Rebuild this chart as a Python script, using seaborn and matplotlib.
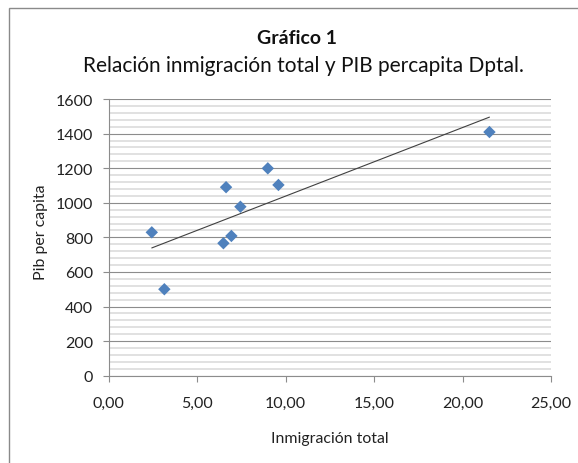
import numpy as np
import pandas as pd
import matplotlib
matplotlib.use("Agg")
import matplotlib.pyplot as plt
import seaborn as sns
from matplotlib.ticker import MultipleLocator, FuncFormatter
from matplotlib.patches import Rectangle

# datos
inmigracion = [2.43, 3.14, 6.63, 6.48, 6.93, 7.44, 8.99, 9.59, 21.52]
pib_percapita = [829, 500, 1090, 766, 808, 977, 1199, 1103, 1409]

df = pd.DataFrame({"inmigracion": inmigracion, "pib": pib_percapita})

sns.set_style("white")
plt.rcParams["font.family"] = ["Lato", "DejaVu Sans"]

fig = plt.figure(figsize=(5.78, 4.64), dpi=100)
ax = fig.add_axes([108.8 / 578, 1 - 376.7 / 464, 442.2 / 578, 276.7 / 464])

# marco del grafico (solo se ven borde izquierdo y superior)
fig.patches.append(Rectangle((9 / 578, -0.1), 1.2, 1 - 9 / 464 + 0.1,
                             transform=fig.transFigure, fill=False,
                             edgecolor="#8a8a8a", linewidth=1.0))

sns.regplot(data=df, x="inmigracion", y="pib", ax=ax, ci=None, truncate=True,
            scatter=False, line_kws={"color": "#404040", "linewidth": 0.8})
sns.scatterplot(data=df, x="inmigracion", y="pib", ax=ax, marker="D", s=40,
                color="#4F81BD", edgecolor="none", zorder=3)

ax.set_xlim(0, 25)
ax.set_ylim(0, 1600)
ax.xaxis.set_major_locator(MultipleLocator(5))
ax.yaxis.set_major_locator(MultipleLocator(200))
ax.yaxis.set_minor_locator(MultipleLocator(40))
ax.xaxis.set_major_formatter(FuncFormatter(lambda v, p: f"{v:.2f}".replace(".", ",")))

ax.grid(False)
ax.yaxis.grid(True, which="minor", color="#dedede", linewidth=1.3, zorder=0)
ax.yaxis.grid(True, which="major", color="#8c8c8c", linewidth=0.8, zorder=0)
ax.set_axisbelow(True)

for s in ["top", "right"]:
    ax.spines[s].set_visible(False)
for s in ["left", "bottom"]:
    ax.spines[s].set_color("#8c8c8c")
    ax.spines[s].set_linewidth(0.8)

ax.tick_params(axis="both", which="major", direction="out", length=4.3, width=0.8,
               color="#8c8c8c", labelsize=11.5, labelcolor="#222222",
               left=True, bottom=True)
ax.tick_params(axis="y", which="minor", length=0)
ax.tick_params(axis="y", pad=7)
ax.tick_params(axis="x", pad=10.5)

ax.set_xlabel("Inmigración total", fontsize=11.4, color="#222222", va="center")
ax.xaxis.set_label_coords(0.5, (376.7 - 439.5) / 276.7)
ax.set_ylabel("Pib per capita", fontsize=11.4, color="#222222", va="center")
ax.yaxis.set_label_coords((41 - 108.8) / 442.2, (376.7 - 232.5) / 276.7)

fig.text(297 / 578, 1 - 38 / 464, "Gráfico 1", ha="center", va="center",
         fontsize=14, fontweight="bold", color="#111111")
fig.text(303.7 / 578, 1 - 66.5 / 464, "Relación inmigración total y PIB percapita Dptal.",
         ha="center", va="center", fontsize=15, color="#111111")

fig.savefig("out.png", dpi=100)
